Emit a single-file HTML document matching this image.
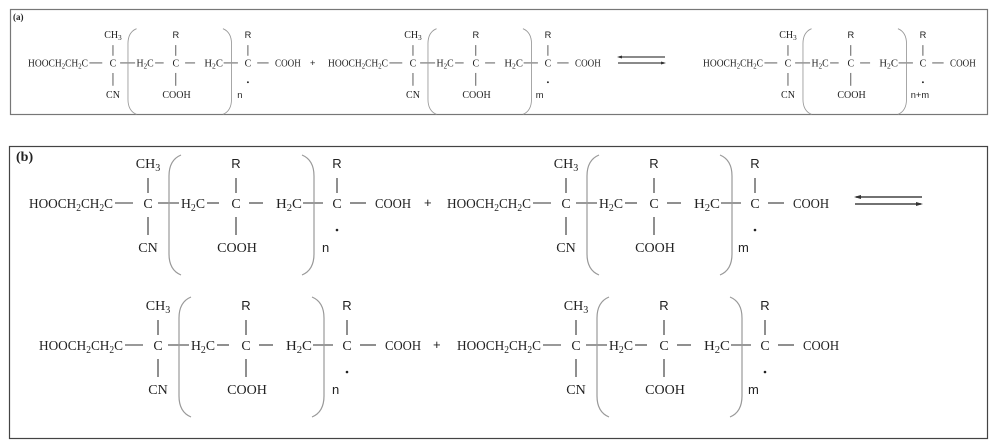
<!DOCTYPE html>
<html><head><meta charset="utf-8"><style>
html,body{margin:0;padding:0;background:#fff;}
svg{display:block;}
text{font-family:"Liberation Serif",serif;font-size:14px;fill:#222;}
.s{font-family:"Liberation Sans",sans-serif;font-size:13px;}
.b{stroke:#333;stroke-width:1.1;fill:none;}
.k{stroke:#999;stroke-width:1.2;fill:none;}
</style></head><body>
<svg width="997" height="448" viewBox="0 0 997 448" xmlns="http://www.w3.org/2000/svg">
<rect x="10.5" y="9.5" width="977" height="105" fill="none" stroke="#777" stroke-width="1.2"/>
<rect x="9.5" y="146.5" width="978" height="292" fill="none" stroke="#444" stroke-width="1.2"/>
<text x="13" y="20" style="font-size:9px;font-weight:bold">(a)</text>
<text x="16" y="161" style="font-size:14px;font-weight:bold">(b)</text>

<!-- structure template copies -->
<g id="g1">
<text x="29" y="208" textLength="84" lengthAdjust="spacingAndGlyphs">HOOCH<tspan font-size="10" dy="3">2</tspan><tspan dy="-3">CH</tspan><tspan font-size="10" dy="3">2</tspan><tspan dy="-3">C</tspan></text>
<line class="b" x1="115" y1="203" x2="133" y2="203"/>
<text x="148" y="208" text-anchor="middle">C</text>
<line class="b" x1="148" y1="178" x2="148" y2="193"/><line class="b" x1="148" y1="217" x2="148" y2="235"/>
<text x="148" y="168" text-anchor="middle">CH<tspan font-size="10" dy="3">3</tspan></text>
<text x="148" y="252" text-anchor="middle">CN</text>
<line class="b" x1="158" y1="203" x2="179" y2="203"/>
<path class="k" d="M181 155 Q169 160 169 176 L169 254 Q169 270 181 275"/>
<text x="181" y="208" textLength="24" lengthAdjust="spacingAndGlyphs">H<tspan font-size="10" dy="3">2</tspan><tspan dy="-3">C</tspan></text>
<line class="b" x1="207" y1="203" x2="219" y2="203"/>
<text x="236" y="208" text-anchor="middle">C</text>
<text x="236" y="168" text-anchor="middle" class="s">R</text>
<line class="b" x1="236" y1="178" x2="236" y2="193"/><line class="b" x1="236" y1="217" x2="236" y2="235"/>
<text x="237" y="252" text-anchor="middle">COOH</text>
<line class="b" x1="249" y1="203" x2="263" y2="203"/>
<text x="276" y="208" textLength="26" lengthAdjust="spacingAndGlyphs">H<tspan font-size="10" dy="3">2</tspan><tspan dy="-3">C</tspan></text>
<line class="b" x1="303" y1="203" x2="323" y2="203"/>
<path class="k" d="M302 155 Q314 160 314 176 L314 254 Q314 270 302 275"/>
<text x="337" y="208" text-anchor="middle">C</text>
<text x="337" y="168" text-anchor="middle" class="s">R</text>
<line class="b" x1="337" y1="178" x2="337" y2="193"/>
<circle cx="337" cy="230" r="1.3" fill="#222"/>
<line class="b" x1="350" y1="203" x2="366" y2="203"/>
<text x="375" y="208" textLength="36" lengthAdjust="spacingAndGlyphs">COOH</text>
</g>
<text x="322" y="252" class="s">n</text>
<text x="424" y="207" class="s">+</text>

<g transform="translate(418,0)">
<text x="29" y="208" textLength="84" lengthAdjust="spacingAndGlyphs">HOOCH<tspan font-size="10" dy="3">2</tspan><tspan dy="-3">CH</tspan><tspan font-size="10" dy="3">2</tspan><tspan dy="-3">C</tspan></text>
<line class="b" x1="115" y1="203" x2="133" y2="203"/>
<text x="148" y="208" text-anchor="middle">C</text>
<line class="b" x1="148" y1="178" x2="148" y2="193"/><line class="b" x1="148" y1="217" x2="148" y2="235"/>
<text x="148" y="168" text-anchor="middle">CH<tspan font-size="10" dy="3">3</tspan></text>
<text x="148" y="252" text-anchor="middle">CN</text>
<line class="b" x1="158" y1="203" x2="179" y2="203"/>
<path class="k" d="M181 155 Q169 160 169 176 L169 254 Q169 270 181 275"/>
<text x="181" y="208" textLength="24" lengthAdjust="spacingAndGlyphs">H<tspan font-size="10" dy="3">2</tspan><tspan dy="-3">C</tspan></text>
<line class="b" x1="207" y1="203" x2="219" y2="203"/>
<text x="236" y="208" text-anchor="middle">C</text>
<text x="236" y="168" text-anchor="middle" class="s">R</text>
<line class="b" x1="236" y1="178" x2="236" y2="193"/><line class="b" x1="236" y1="217" x2="236" y2="235"/>
<text x="237" y="252" text-anchor="middle">COOH</text>
<line class="b" x1="249" y1="203" x2="263" y2="203"/>
<text x="276" y="208" textLength="26" lengthAdjust="spacingAndGlyphs">H<tspan font-size="10" dy="3">2</tspan><tspan dy="-3">C</tspan></text>
<line class="b" x1="303" y1="203" x2="323" y2="203"/>
<path class="k" d="M302 155 Q314 160 314 176 L314 254 Q314 270 302 275"/>
<text x="337" y="208" text-anchor="middle">C</text>
<text x="337" y="168" text-anchor="middle" class="s">R</text>
<line class="b" x1="337" y1="178" x2="337" y2="193"/>
<circle cx="337" cy="230" r="1.3" fill="#222"/>
<line class="b" x1="350" y1="203" x2="366" y2="203"/>
<text x="375" y="208" textLength="36" lengthAdjust="spacingAndGlyphs">COOH</text>
<text x="320" y="252" class="s">m</text>
</g>
<!-- b arrows -->
<line x1="856" y1="197" x2="922" y2="197" stroke="#444" stroke-width="1.5"/>
<path d="M854 197 L861 195 L861 199 Z" fill="#333"/>
<line x1="855" y1="204" x2="921" y2="204" stroke="#444" stroke-width="1.5"/>
<path d="M923 204 L916 202 L916 206 Z" fill="#333"/>

<!-- row 2 -->
<g transform="translate(10,142)">
<text x="29" y="208" textLength="84" lengthAdjust="spacingAndGlyphs">HOOCH<tspan font-size="10" dy="3">2</tspan><tspan dy="-3">CH</tspan><tspan font-size="10" dy="3">2</tspan><tspan dy="-3">C</tspan></text>
<line class="b" x1="115" y1="203" x2="133" y2="203"/>
<text x="148" y="208" text-anchor="middle">C</text>
<line class="b" x1="148" y1="178" x2="148" y2="193"/><line class="b" x1="148" y1="217" x2="148" y2="235"/>
<text x="148" y="168" text-anchor="middle">CH<tspan font-size="10" dy="3">3</tspan></text>
<text x="148" y="252" text-anchor="middle">CN</text>
<line class="b" x1="158" y1="203" x2="179" y2="203"/>
<path class="k" d="M181 155 Q169 160 169 176 L169 254 Q169 270 181 275"/>
<text x="181" y="208" textLength="24" lengthAdjust="spacingAndGlyphs">H<tspan font-size="10" dy="3">2</tspan><tspan dy="-3">C</tspan></text>
<line class="b" x1="207" y1="203" x2="219" y2="203"/>
<text x="236" y="208" text-anchor="middle">C</text>
<text x="236" y="168" text-anchor="middle" class="s">R</text>
<line class="b" x1="236" y1="178" x2="236" y2="193"/><line class="b" x1="236" y1="217" x2="236" y2="235"/>
<text x="237" y="252" text-anchor="middle">COOH</text>
<line class="b" x1="249" y1="203" x2="263" y2="203"/>
<text x="276" y="208" textLength="26" lengthAdjust="spacingAndGlyphs">H<tspan font-size="10" dy="3">2</tspan><tspan dy="-3">C</tspan></text>
<line class="b" x1="303" y1="203" x2="323" y2="203"/>
<path class="k" d="M302 155 Q314 160 314 176 L314 254 Q314 270 302 275"/>
<text x="337" y="208" text-anchor="middle">C</text>
<text x="337" y="168" text-anchor="middle" class="s">R</text>
<line class="b" x1="337" y1="178" x2="337" y2="193"/>
<circle cx="337" cy="230" r="1.3" fill="#222"/>
<line class="b" x1="350" y1="203" x2="366" y2="203"/>
<text x="375" y="208" textLength="36" lengthAdjust="spacingAndGlyphs">COOH</text>
<text x="322" y="252" class="s">n</text>
<text x="423" y="207" class="s">+</text>
</g>
<g transform="translate(428,142)">
<text x="29" y="208" textLength="84" lengthAdjust="spacingAndGlyphs">HOOCH<tspan font-size="10" dy="3">2</tspan><tspan dy="-3">CH</tspan><tspan font-size="10" dy="3">2</tspan><tspan dy="-3">C</tspan></text>
<line class="b" x1="115" y1="203" x2="133" y2="203"/>
<text x="148" y="208" text-anchor="middle">C</text>
<line class="b" x1="148" y1="178" x2="148" y2="193"/><line class="b" x1="148" y1="217" x2="148" y2="235"/>
<text x="148" y="168" text-anchor="middle">CH<tspan font-size="10" dy="3">3</tspan></text>
<text x="148" y="252" text-anchor="middle">CN</text>
<line class="b" x1="158" y1="203" x2="179" y2="203"/>
<path class="k" d="M181 155 Q169 160 169 176 L169 254 Q169 270 181 275"/>
<text x="181" y="208" textLength="24" lengthAdjust="spacingAndGlyphs">H<tspan font-size="10" dy="3">2</tspan><tspan dy="-3">C</tspan></text>
<line class="b" x1="207" y1="203" x2="219" y2="203"/>
<text x="236" y="208" text-anchor="middle">C</text>
<text x="236" y="168" text-anchor="middle" class="s">R</text>
<line class="b" x1="236" y1="178" x2="236" y2="193"/><line class="b" x1="236" y1="217" x2="236" y2="235"/>
<text x="237" y="252" text-anchor="middle">COOH</text>
<line class="b" x1="249" y1="203" x2="263" y2="203"/>
<text x="276" y="208" textLength="26" lengthAdjust="spacingAndGlyphs">H<tspan font-size="10" dy="3">2</tspan><tspan dy="-3">C</tspan></text>
<line class="b" x1="303" y1="203" x2="323" y2="203"/>
<path class="k" d="M302 155 Q314 160 314 176 L314 254 Q314 270 302 275"/>
<text x="337" y="208" text-anchor="middle">C</text>
<text x="337" y="168" text-anchor="middle" class="s">R</text>
<line class="b" x1="337" y1="178" x2="337" y2="193"/>
<circle cx="337" cy="230" r="1.3" fill="#222"/>
<line class="b" x1="350" y1="203" x2="366" y2="203"/>
<text x="375" y="208" textLength="36" lengthAdjust="spacingAndGlyphs">COOH</text>
<text x="320" y="252" class="s">m</text>
</g>

<!-- (a) row, scaled -->
<g transform="translate(7.3,-82) scale(0.714)">
<text x="29" y="208" textLength="84" lengthAdjust="spacingAndGlyphs">HOOCH<tspan font-size="10" dy="3">2</tspan><tspan dy="-3">CH</tspan><tspan font-size="10" dy="3">2</tspan><tspan dy="-3">C</tspan></text>
<line class="b" x1="115" y1="203" x2="133" y2="203"/>
<text x="148" y="208" text-anchor="middle">C</text>
<line class="b" x1="148" y1="178" x2="148" y2="193"/><line class="b" x1="148" y1="217" x2="148" y2="235"/>
<text x="148" y="168" text-anchor="middle">CH<tspan font-size="10" dy="3">3</tspan></text>
<text x="148" y="252" text-anchor="middle">CN</text>
<line class="b" x1="158" y1="203" x2="179" y2="203"/>
<path class="k" d="M181 155 Q169 160 169 176 L169 254 Q169 270 181 275"/>
<text x="181" y="208" textLength="24" lengthAdjust="spacingAndGlyphs">H<tspan font-size="10" dy="3">2</tspan><tspan dy="-3">C</tspan></text>
<line class="b" x1="207" y1="203" x2="219" y2="203"/>
<text x="236" y="208" text-anchor="middle">C</text>
<text x="236" y="168" text-anchor="middle" class="s">R</text>
<line class="b" x1="236" y1="178" x2="236" y2="193"/><line class="b" x1="236" y1="217" x2="236" y2="235"/>
<text x="237" y="252" text-anchor="middle">COOH</text>
<line class="b" x1="249" y1="203" x2="263" y2="203"/>
<text x="276" y="208" textLength="26" lengthAdjust="spacingAndGlyphs">H<tspan font-size="10" dy="3">2</tspan><tspan dy="-3">C</tspan></text>
<line class="b" x1="303" y1="203" x2="323" y2="203"/>
<path class="k" d="M302 155 Q314 160 314 176 L314 254 Q314 270 302 275"/>
<text x="337" y="208" text-anchor="middle">C</text>
<text x="337" y="168" text-anchor="middle" class="s">R</text>
<line class="b" x1="337" y1="178" x2="337" y2="193"/>
<circle cx="337" cy="230" r="1.3" fill="#222"/>
<line class="b" x1="350" y1="203" x2="366" y2="203"/>
<text x="375" y="208" textLength="36" lengthAdjust="spacingAndGlyphs">COOH</text>
<text x="322" y="252" class="s">n</text>
<text x="424" y="207" class="s">+</text>
</g>
<g transform="translate(307.3,-82) scale(0.714)">
<text x="29" y="208" textLength="84" lengthAdjust="spacingAndGlyphs">HOOCH<tspan font-size="10" dy="3">2</tspan><tspan dy="-3">CH</tspan><tspan font-size="10" dy="3">2</tspan><tspan dy="-3">C</tspan></text>
<line class="b" x1="115" y1="203" x2="133" y2="203"/>
<text x="148" y="208" text-anchor="middle">C</text>
<line class="b" x1="148" y1="178" x2="148" y2="193"/><line class="b" x1="148" y1="217" x2="148" y2="235"/>
<text x="148" y="168" text-anchor="middle">CH<tspan font-size="10" dy="3">3</tspan></text>
<text x="148" y="252" text-anchor="middle">CN</text>
<line class="b" x1="158" y1="203" x2="179" y2="203"/>
<path class="k" d="M181 155 Q169 160 169 176 L169 254 Q169 270 181 275"/>
<text x="181" y="208" textLength="24" lengthAdjust="spacingAndGlyphs">H<tspan font-size="10" dy="3">2</tspan><tspan dy="-3">C</tspan></text>
<line class="b" x1="207" y1="203" x2="219" y2="203"/>
<text x="236" y="208" text-anchor="middle">C</text>
<text x="236" y="168" text-anchor="middle" class="s">R</text>
<line class="b" x1="236" y1="178" x2="236" y2="193"/><line class="b" x1="236" y1="217" x2="236" y2="235"/>
<text x="237" y="252" text-anchor="middle">COOH</text>
<line class="b" x1="249" y1="203" x2="263" y2="203"/>
<text x="276" y="208" textLength="26" lengthAdjust="spacingAndGlyphs">H<tspan font-size="10" dy="3">2</tspan><tspan dy="-3">C</tspan></text>
<line class="b" x1="303" y1="203" x2="323" y2="203"/>
<path class="k" d="M302 155 Q314 160 314 176 L314 254 Q314 270 302 275"/>
<text x="337" y="208" text-anchor="middle">C</text>
<text x="337" y="168" text-anchor="middle" class="s">R</text>
<line class="b" x1="337" y1="178" x2="337" y2="193"/>
<circle cx="337" cy="230" r="1.3" fill="#222"/>
<line class="b" x1="350" y1="203" x2="366" y2="203"/>
<text x="375" y="208" textLength="36" lengthAdjust="spacingAndGlyphs">COOH</text>
<text x="320" y="252" class="s">m</text>
</g>
<line x1="619" y1="57" x2="665" y2="57" stroke="#444" stroke-width="1.3"/>
<path d="M617 57 L622 55.5 L622 58.5 Z" fill="#333"/>
<line x1="618" y1="63" x2="664" y2="63" stroke="#444" stroke-width="1.3"/>
<path d="M666 63 L661 61.5 L661 64.5 Z" fill="#333"/>
<g transform="translate(682.3,-82) scale(0.714)">
<text x="29" y="208" textLength="84" lengthAdjust="spacingAndGlyphs">HOOCH<tspan font-size="10" dy="3">2</tspan><tspan dy="-3">CH</tspan><tspan font-size="10" dy="3">2</tspan><tspan dy="-3">C</tspan></text>
<line class="b" x1="115" y1="203" x2="133" y2="203"/>
<text x="148" y="208" text-anchor="middle">C</text>
<line class="b" x1="148" y1="178" x2="148" y2="193"/><line class="b" x1="148" y1="217" x2="148" y2="235"/>
<text x="148" y="168" text-anchor="middle">CH<tspan font-size="10" dy="3">3</tspan></text>
<text x="148" y="252" text-anchor="middle">CN</text>
<line class="b" x1="158" y1="203" x2="179" y2="203"/>
<path class="k" d="M181 155 Q169 160 169 176 L169 254 Q169 270 181 275"/>
<text x="181" y="208" textLength="24" lengthAdjust="spacingAndGlyphs">H<tspan font-size="10" dy="3">2</tspan><tspan dy="-3">C</tspan></text>
<line class="b" x1="207" y1="203" x2="219" y2="203"/>
<text x="236" y="208" text-anchor="middle">C</text>
<text x="236" y="168" text-anchor="middle" class="s">R</text>
<line class="b" x1="236" y1="178" x2="236" y2="193"/><line class="b" x1="236" y1="217" x2="236" y2="235"/>
<text x="237" y="252" text-anchor="middle">COOH</text>
<line class="b" x1="249" y1="203" x2="263" y2="203"/>
<text x="276" y="208" textLength="26" lengthAdjust="spacingAndGlyphs">H<tspan font-size="10" dy="3">2</tspan><tspan dy="-3">C</tspan></text>
<line class="b" x1="303" y1="203" x2="323" y2="203"/>
<path class="k" d="M302 155 Q314 160 314 176 L314 254 Q314 270 302 275"/>
<text x="337" y="208" text-anchor="middle">C</text>
<text x="337" y="168" text-anchor="middle" class="s">R</text>
<line class="b" x1="337" y1="178" x2="337" y2="193"/>
<circle cx="337" cy="230" r="1.3" fill="#222"/>
<line class="b" x1="350" y1="203" x2="366" y2="203"/>
<text x="375" y="208" textLength="36" lengthAdjust="spacingAndGlyphs">COOH</text>
<text x="320" y="252" class="s">n+m</text>
</g>
</svg>
</body></html>
